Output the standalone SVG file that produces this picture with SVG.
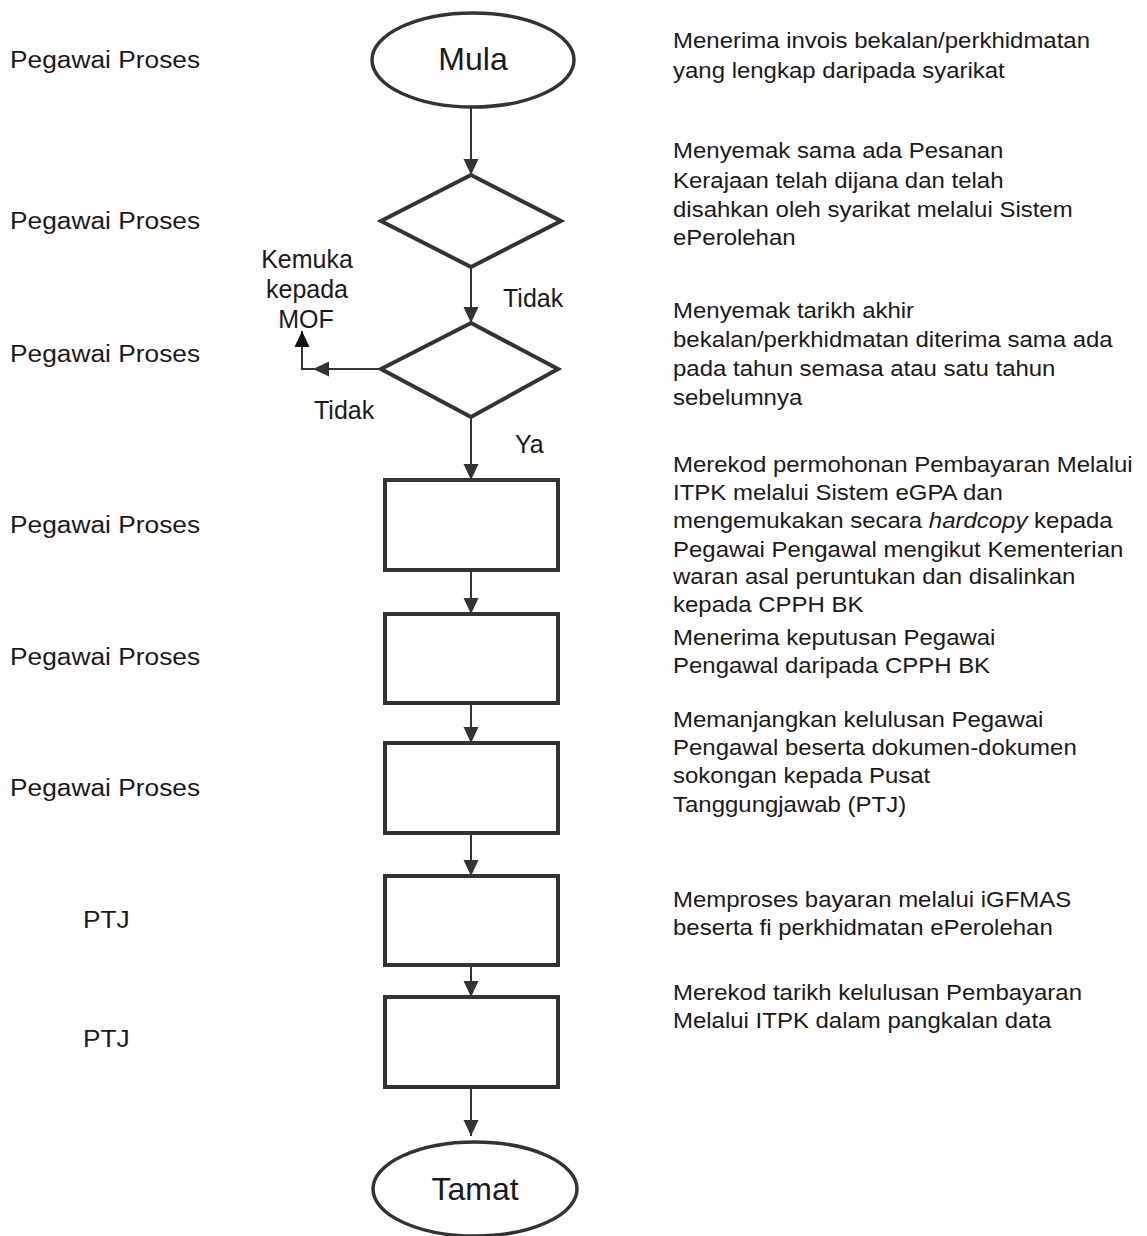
<svg xmlns="http://www.w3.org/2000/svg" width="1147" height="1236" viewBox="0 0 1147 1236">
<style>
  .shape { fill: #ffffff; stroke: #333333; }
  .term { stroke-width: 3.5; }
  .proc { stroke-width: 4; }
  .conn { fill: none; stroke: #333333; stroke-width: 2; }
  text { font-family: "Liberation Sans", Arial, sans-serif; fill: #1a1a1a; }
  .lbl { font-size: 23.5px; }
  .desc { font-size: 22px; }
  .mid { font-size: 25px; }
  .big { font-size: 32px; text-anchor: middle; }
</style>
<defs>
  <marker id="arr" markerUnits="userSpaceOnUse" markerWidth="18" markerHeight="18" viewBox="0 0 18 18" refX="17" refY="9" orient="auto">
    <path d="M1,1.5 L17,9 L1,16.5 Z" fill="#333333"/>
  </marker>
  <marker id="arrBlk" markerUnits="userSpaceOnUse" markerWidth="18" markerHeight="18" viewBox="0 0 18 18" refX="17" refY="9" orient="auto">
    <path d="M1,1.5 L17,9 L1,16.5 Z" fill="#111111"/>
  </marker>
</defs>
<rect width="1147" height="1236" fill="#ffffff"/>

<g id="connectors">
  <path class="conn" d="M471,108 L471,175" marker-end="url(#arr)"/>
  <path class="conn" d="M471,267 L471,323" marker-end="url(#arr)"/>
  <path class="conn" d="M380,369 L313,369" marker-end="url(#arr)"/>
  <path class="conn" d="M314,369 L302,369 L302,331" marker-end="url(#arrBlk)"/>
  <path class="conn" d="M471,417 L471,480" marker-end="url(#arr)"/>
  <path class="conn" d="M471,570 L471,614" marker-end="url(#arr)"/>
  <path class="conn" d="M471,703 L471,743" marker-end="url(#arr)"/>
  <path class="conn" d="M471,833 L471,876" marker-end="url(#arr)"/>
  <path class="conn" d="M471,965 L471,997" marker-end="url(#arr)"/>
  <path class="conn" d="M471,1087 L471,1136" marker-end="url(#arr)"/>
</g>

<g id="mula">
  <ellipse class="shape term" cx="473" cy="60" rx="101" ry="47"/>
  <text class="big" x="473" y="70">Mula</text>
</g>
<g id="decision1">
  <polygon class="shape proc" points="471,175 561,221 471,267 381,221"/>
</g>
<g id="decision2">
  <polygon class="shape proc" points="471,323 558,369 471,417 381,369"/>
</g>
<g id="box1"><rect class="shape proc" x="385" y="480" width="173" height="90"/></g>
<g id="box2"><rect class="shape proc" x="385" y="614" width="173" height="89"/></g>
<g id="box3"><rect class="shape proc" x="385" y="743" width="173" height="90"/></g>
<g id="box4"><rect class="shape proc" x="385" y="876" width="173" height="89"/></g>
<g id="box5"><rect class="shape proc" x="385" y="997" width="173" height="90"/></g>
<g id="tamat">
  <ellipse class="shape term" cx="475" cy="1189" rx="102" ry="47"/>
  <text class="big" x="475" y="1200">Tamat</text>
</g>

<g id="branch-labels">
  <text class="mid" x="307" y="268" text-anchor="middle">Kemuka</text>
  <text class="mid" x="307" y="298" text-anchor="middle">kepada</text>
  <text class="mid" x="306" y="328" text-anchor="middle">MOF</text>
  <text class="mid" x="503" y="307">Tidak</text>
  <text class="mid" x="314" y="419">Tidak</text>
  <text class="mid" x="515" y="453">Ya</text>
</g>

<g id="roles">
  <text class="lbl" transform="translate(10 68) scale(1.12 1)">Pegawai Proses</text>
  <text class="lbl" transform="translate(10 229) scale(1.12 1)">Pegawai Proses</text>
  <text class="lbl" transform="translate(10 362) scale(1.12 1)">Pegawai Proses</text>
  <text class="lbl" transform="translate(10 533) scale(1.12 1)">Pegawai Proses</text>
  <text class="lbl" transform="translate(10 665) scale(1.12 1)">Pegawai Proses</text>
  <text class="lbl" transform="translate(10 796) scale(1.12 1)">Pegawai Proses</text>
  <text class="lbl" transform="translate(83 928) scale(1.12 1)">PTJ</text>
  <text class="lbl" transform="translate(83 1047) scale(1.12 1)">PTJ</text>
</g>

<g id="descriptions">
  <text class="desc" transform="translate(673 48) scale(1.09 1)">
    <tspan x="0" y="0">Menerima invois bekalan/perkhidmatan</tspan>
    <tspan x="0" y="30">yang lengkap daripada syarikat</tspan>
  </text>
  <text class="desc" transform="translate(673 158) scale(1.09 1)">
    <tspan x="0" y="0">Menyemak sama ada Pesanan</tspan>
    <tspan x="0" y="30">Kerajaan telah dijana dan telah</tspan>
    <tspan x="0" y="59">disahkan oleh syarikat melalui Sistem</tspan>
    <tspan x="0" y="87">ePerolehan</tspan>
  </text>
  <text class="desc" transform="translate(673 318) scale(1.09 1)">
    <tspan x="0" y="0">Menyemak tarikh akhir</tspan>
    <tspan x="0" y="29">bekalan/perkhidmatan diterima sama ada</tspan>
    <tspan x="0" y="58">pada tahun semasa atau satu tahun</tspan>
    <tspan x="0" y="87">sebelumnya</tspan>
  </text>
  <text class="desc" transform="translate(673 472) scale(1.09 1)">
    <tspan x="0" y="0">Merekod permohonan Pembayaran Melalui</tspan>
    <tspan x="0" y="28">ITPK melalui Sistem eGPA dan</tspan>
    <tspan x="0" y="56">mengemukakan secara <tspan font-style="italic">hardcopy</tspan> kepada</tspan>
    <tspan x="0" y="85">Pegawai Pengawal mengikut Kementerian</tspan>
    <tspan x="0" y="112">waran asal peruntukan dan disalinkan</tspan>
    <tspan x="0" y="140">kepada CPPH BK</tspan>
  </text>
  <text class="desc" transform="translate(673 645) scale(1.09 1)">
    <tspan x="0" y="0">Menerima keputusan Pegawai</tspan>
    <tspan x="0" y="28">Pengawal daripada CPPH BK</tspan>
  </text>
  <text class="desc" transform="translate(673 727) scale(1.09 1)">
    <tspan x="0" y="0">Memanjangkan kelulusan Pegawai</tspan>
    <tspan x="0" y="28">Pengawal beserta dokumen-dokumen</tspan>
    <tspan x="0" y="56">sokongan kepada Pusat</tspan>
    <tspan x="0" y="85">Tanggungjawab (PTJ)</tspan>
  </text>
  <text class="desc" transform="translate(673 907) scale(1.09 1)">
    <tspan x="0" y="0">Memproses bayaran melalui iGFMAS</tspan>
    <tspan x="0" y="28">beserta fi perkhidmatan ePerolehan</tspan>
  </text>
  <text class="desc" transform="translate(673 1000) scale(1.09 1)">
    <tspan x="0" y="0">Merekod tarikh kelulusan Pembayaran</tspan>
    <tspan x="0" y="28">Melalui ITPK dalam pangkalan data</tspan>
  </text>
</g>
</svg>
